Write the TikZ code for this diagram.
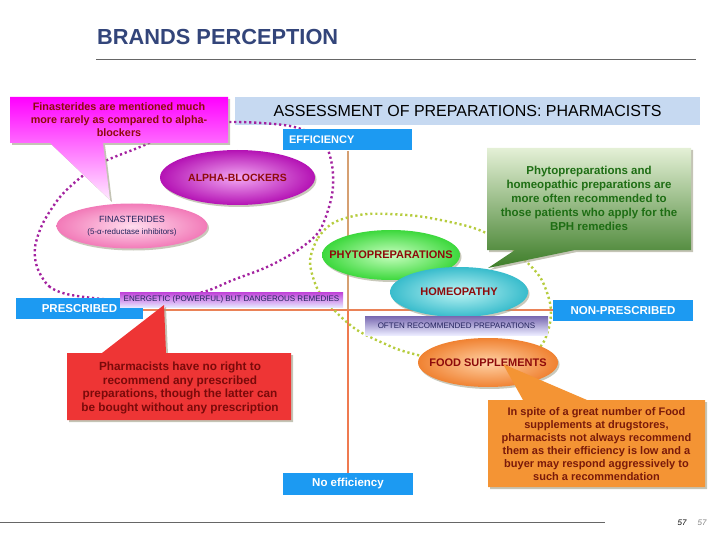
\documentclass[tikz,border=0pt]{standalone}
\usepackage{fontspec}
\setmainfont{Liberation Sans}
\usetikzlibrary{shadows}
\definecolor{titlenavy}{HTML}{33457A}
\definecolor{boxblue}{HTML}{1C9AF2}
\definecolor{headblue}{HTML}{C6D9F1}
\definecolor{darkred}{HTML}{8E0B0B}
\definecolor{stripnavy}{HTML}{24245E}
\definecolor{loopmag}{HTML}{A3229F}
\definecolor{loopgreen}{HTML}{B6CC3E}
\definecolor{axistan}{HTML}{D6A072}
\definecolor{axisred}{HTML}{EF7A50}
\definecolor{shadowgray}{HTML}{9C9C84}
\definecolor{energtop}{HTML}{C040D8}
\definecolor{oftentop}{HTML}{7868B0}
\definecolor{greenlight}{HTML}{E4F0D6}
\definecolor{greenmid}{HTML}{A9C98B}
\definecolor{greendark}{HTML}{3D7D28}
\definecolor{greentext}{HTML}{1E6E14}
\definecolor{redside}{HTML}{EE3535}
\definecolor{redmid}{HTML}{F8B0A8}
\definecolor{redtext}{HTML}{7A0A0A}
\definecolor{orangeside}{HTML}{F49434}
\definecolor{orangemid}{HTML}{F9CD98}
\definecolor{orangetext}{HTML}{7A1A0A}
\begin{document}
\begin{tikzpicture}[x=1pt,y=-1pt,line join=round,
  fs/.style={font=\fontsize{#1}{#1}\selectfont},
  bluebox/.style={fill=boxblue,text=white,inner sep=0pt,font=\bfseries\fontsize{11.5}{13}\selectfont},
  strip/.style={inner sep=0pt,text=stripnavy,font=\fontsize{8}{9}\selectfont},
  oval/.style={drop shadow={shadow xshift=1.5pt,shadow yshift=-2pt,fill=shadowgray,opacity=.55}},
  ovaltext/.style={text=darkred,font=\bfseries\fontsize{11}{13}\selectfont},
  callout/.style={drop shadow={shadow xshift=2pt,shadow yshift=-2pt,fill=shadowgray,opacity=.6}},
  calltext/.style={align=center,inner sep=0pt},
  dots/.style={draw=#1,line width=2.4pt,dash pattern=on 2.2pt off 2.8pt}]
\useasboundingbox (0,0) rectangle (720,540);

\node[anchor=west,text=titlenavy,font=\bfseries\fontsize{21.8}{24}\selectfont,inner sep=0pt] (title) at (97,37) {BRANDS PERCEPTION};
\draw[gray!80!black,line width=1pt] (96,60) -- (696,60);
\draw[gray!80!black,line width=1pt] (0,522) -- (605,522);
\node[font=\itshape\fontsize{8}{9}\selectfont] (pga) at (682,523) {57};
\node[font=\itshape\fontsize{8}{9}\selectfont,text=gray] (pgb) at (702,523) {57};

\node[fill=headblue,minimum width=465pt,minimum height=28pt,inner sep=0pt,fs=16] (head) at (467.5,111) {ASSESSMENT OF PREPARATIONS: PHARMACISTS};

\draw[axistan,line width=2pt] (348,151) -- (348,310);
\draw[axisred,line width=2pt] (348,310) -- (348,474);
\draw[axisred!80!axistan,line width=2pt] (143,310) -- (553,310);

\draw[dots=loopmag] plot[smooth cycle] coordinates {(77,296) (50,287) (37,267) (35,247) (43,223) (60,197) (80,178) (103,162) (140,147) (185,128) (230,122) (290,126) (322,140) (332,165) (332,195) (320,230) (298,250) (267,267) (233,280) (203,292) (150,302)};
\draw[dots=loopgreen] plot[smooth cycle] coordinates {(310,262) (318,238) (335,222) (367,214) (417,216) (467,226) (492,236) (517,253) (540,277) (550,303) (550,323) (543,343) (528,356) (480,368) (410,353) (383,343) (357,330) (337,313) (318,290)};

\node[bluebox,minimum width=129pt,minimum height=21pt,text width=117pt,align=left,font=\bfseries\fontsize{11}{13}\selectfont] (eff) at (347.5,140) {EFFICIENCY};

\shade[callout,top color=magenta,bottom color=magenta!8] (10,97) -- (228,97) -- (228,143) -- (103,143) -- (110,200) -- (50,143) -- (10,143) -- cycle;
\node[calltext,text=darkred,font=\bfseries\fontsize{10.8}{13}\selectfont] (finnote) at (119,120) {Finasterides are mentioned much\\more rarely as compared to alpha-\\blockers};

\foreach \n/\x/\y/\rx/\ry/\co/\ci in {alpha/237.5/177.5/77.5/27.5/B412B4/F2A8F2, finas/132/226/75.5/22.5/F27AB8/FFDDEE, phyto/391/255/69/25/3CD83C/C8FFC0, homeo/459/292/69/25/38BCCC/BDF4F4, food/488/362.5/70/24.5/F08232/FFD2A6}{
  \definecolor{oc}{HTML}{\co}\definecolor{ic}{HTML}{\ci}
  \shade[oval,inner color=ic,outer color=oc] (\x,\y) ellipse [x radius=\rx,y radius=\ry];
  \coordinate (\n) at (\x,\y);
}
\node[ovaltext,font=\bfseries\fontsize{10.5}{13}\selectfont] (alphat) at (alpha) {ALPHA-BLOCKERS};
\node[calltext,text=stripnavy] (finast) at (finas) {{\fontsize{9}{11}\selectfont FINASTERIDES}\\{\fontsize{8}{10}\selectfont(5-α-reductase inhibitors)}};
\node[ovaltext] (phytot) at (phyto) {PHYTOPREPARATIONS};
\node[ovaltext] (homeot) at (homeo) {HOMEOPATHY};
\node[ovaltext] (foodt) at (food) {FOOD SUPPLEMENTS};

\foreach \n/\x/\y/\w/\h/\t in {presc/79.5/308.5/127/21/PRESCRIBED, nonpresc/623/310.5/140/21/NON-PRESCRIBED, noeff/348/484/130/22/No efficiency}
  \node[bluebox,minimum width=\w pt,minimum height=\h pt] (\n) at (\x,\y) {\t};

\shade[top color=energtop, bottom color=white!90!blue] (120,292) rectangle (343,307);
\node[strip] (energ) at (231.5,299.5) {ENERGETIC (POWERFUL) BUT DANGEROUS REMEDIES};
\shade[top color=oftentop, bottom color=white!92!blue] (365,316) rectangle (548,335);
\node[strip] (often) at (456.5,325.5) {OFTEN RECOMMENDED PREPARATIONS};

\shade[callout,top color=greenlight,middle color=greenmid,bottom color=greendark] (487,148) -- (691,148) -- (691,250) -- (575,250) -- (488,268) -- (515,250) -- (487,250) -- cycle;
\node[calltext,text=greentext,font=\bfseries\fontsize{11.5}{14}\selectfont] (phytonote) at (589,198.5) {Phytopreparations and\\homeopathic preparations are\\more often recommended to\\those patients who apply for the\\BPH remedies};

\shade[callout,left color=redside,middle color=redmid,right color=redside] (67,353) -- (102,353) -- (164,305) -- (166,353) -- (291,353) -- (291,420) -- (67,420) -- cycle;
\node[calltext,text=redtext,font=\bfseries\fontsize{11.8}{13.4}\selectfont] (rxnote) at (180,388) {Pharmacists have no right to\\recommend any prescribed\\preparations, though the latter can\\be bought without any prescription};

\shade[callout,left color=orangeside,middle color=orangemid,right color=orangeside] (488,400) -- (523,400) -- (503,364) -- (587,400) -- (705,400) -- (705,487) -- (488,487) -- cycle;
\node[calltext,text=orangetext,font=\bfseries\fontsize{11}{13}\selectfont] (foodnote) at (596.5,444.5) {In spite of a great number of Food\\supplements at drugstores,\\pharmacists not always recommend\\them as their efficiency is low and a\\buyer may respond aggressively to\\such a recommendation};
\end{tikzpicture}
\end{document}
